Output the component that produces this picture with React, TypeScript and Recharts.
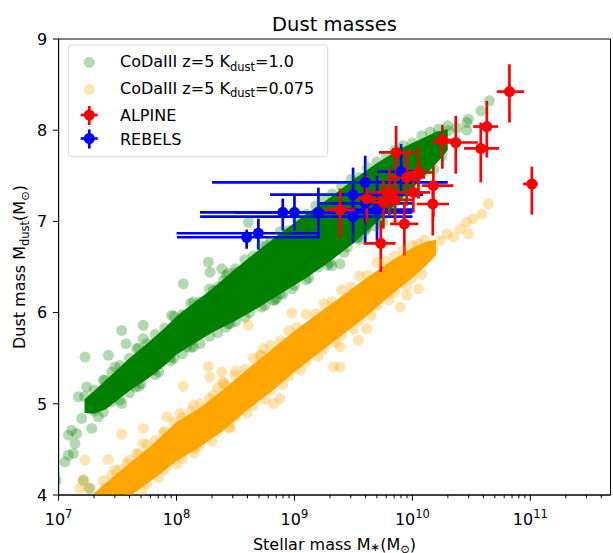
import React from 'react';
import { ComposedChart, XAxis, YAxis, Scatter, Area, ErrorBar, ReferenceArea } from 'recharts';

const FONT = '"DejaVu Sans", Verdana, sans-serif';
const LOG_X_MIN = 7;
const LOG_X_MAX = 11.68;
const Y_MIN = 4;
const Y_MAX = 9;
const X_MAJOR_EXP = [7, 8, 9, 10, 11];
const Y_TICKS = [4, 5, 6, 7, 8, 9];

const TITLE = 'Dust masses';
const SERIES_NAMES = ['CoDaIII z=5 K', 'CoDaIII z=5 K', 'ALPINE', 'REBELS'];
const SERIES_SUFFIX = ['=1.0', '=0.075', '', ''];

// dense core of the simulated clouds: [log M*, log Mdust low, log Mdust high]
const greenBand: [number, number, number][] = [
  [7.22, 4.9, 5.05], [7.3, 4.89, 5.14], [7.4, 4.94, 5.26], [7.5, 5.04, 5.38], [7.6, 5.14, 5.5],
  [7.75, 5.27, 5.66], [7.9, 5.42, 5.83], [8.0, 5.54, 5.96], [8.15, 5.66, 6.11], [8.3, 5.78, 6.26],
  [8.5, 5.91, 6.48], [8.7, 6.06, 6.69], [8.9, 6.22, 6.89], [9.1, 6.38, 7.08], [9.3, 6.56, 7.26],
  [9.5, 6.76, 7.46], [9.7, 6.99, 7.64], [9.9, 7.24, 7.8], [10.05, 7.43, 7.89], [10.2, 7.63, 7.98],
  [10.3, 7.78, 8.01],
];
const orangeBand: [number, number, number][] = [
  [7.3, 3.8, 4.02], [7.4, 3.85, 4.13], [7.5, 3.9, 4.24], [7.65, 4.03, 4.4], [7.8, 4.17, 4.56],
  [8.0, 4.37, 4.8], [8.2, 4.53, 4.96], [8.4, 4.71, 5.16], [8.6, 4.93, 5.38], [8.8, 5.13, 5.59],
  [9.0, 5.35, 5.8], [9.2, 5.55, 5.99], [9.4, 5.75, 6.18], [9.6, 5.95, 6.37], [9.8, 6.17, 6.55],
  [10.0, 6.38, 6.71], [10.12, 6.52, 6.78], [10.2, 6.63, 6.8],
];

// individual (scattered) simulated galaxies: [log M*, log Mdust]
const greenPoints: [number, number][] = [
  [8.058, 6.317], [8.143, 6.115], [7.959, 5.969], [7.718, 5.86], [7.535, 5.805], [7.718, 5.714],
  [7.572, 5.659], [7.662, 5.605], [7.224, 5.513], [7.422, 5.532], [7.478, 5.404], [7.394, 5.258],
  [7.238, 5.185], [7.167, 5.076], [7.351, 5.058], [7.337, 4.857], [7.281, 4.73], [7.196, 4.839],
  [7.111, 4.711], [7.082, 4.656], [7.153, 4.675], [7.139, 4.566], [7.125, 4.456], [7.082, 4.438],
  [7.054, 4.364], [6.98, 4.16], [7.21, 4.16], [7.266, 4.073], [8.454, 5.878], [8.595, 6.06],
  [8.85, 6.28], [8.878, 6.207], [8.821, 6.134], [8.143, 5.623], [8.129, 5.696], [7.945, 5.513],
  [7.803, 5.368], [7.648, 5.185], [7.535, 5.003], [7.3, 4.92],
  [8.27, 6.553], [8.284, 6.443], [8.383, 6.48], [8.439, 6.432], [8.51, 6.443], [8.539, 6.388],
  [8.397, 6.352], [8.312, 6.243], [8.072, 5.969], [8.609, 6.99], [8.765, 6.735], [8.835, 6.141],
  [8.736, 6.207], [8.439, 5.878], [8.086, 5.623],
  [9.245, 6.571], [9.316, 6.516], [9.387, 6.535], [9.387, 6.754], [9.542, 6.826], [9.599, 6.918],
  [10.653, 8.322], [10.58, 8.212], [10.475, 8.121], [10.461, 8.084], [10.461, 8.001], [10.377, 8.023],
  [10.305, 7.993], [10.212, 7.939], [10.193, 7.829], [10.093, 7.775], [10.037, 7.738], [10.178, 7.701],
  [10.136, 7.665], [9.613, 6.935], [9.528, 6.826], [9.698, 7.045],
  [7.45, 5.02], [7.6, 5.12], [7.7, 5.22], [7.85, 5.35], [7.95, 5.47], [8.05, 5.55], [8.2, 5.66],
  [8.35, 5.78], [8.5, 5.9], [8.62, 6.0], [8.75, 6.08], [8.9, 6.2], [9.0, 6.3], [9.1, 6.36],
  [9.2, 6.5], [9.3, 6.55], [9.45, 6.72], [9.6, 6.9], [9.75, 7.0], [9.85, 7.2], [9.95, 7.35],
  [10.1, 7.55], [10.25, 7.72],
  [7.3, 5.15], [7.45, 5.35], [7.6, 5.5], [7.75, 5.66], [7.9, 5.83], [8.05, 5.98], [8.2, 6.12],
  [8.35, 6.28], [8.5, 6.48], [8.65, 6.62], [8.8, 6.78], [8.95, 6.9], [9.1, 7.08], [9.25, 7.25],
  [9.4, 7.38], [9.55, 7.48], [9.7, 7.65], [9.85, 7.78], [10.0, 7.86], [10.15, 7.98], [10.3, 8.05],
  [7.38, 4.91], [7.52, 5.04], [7.68, 5.19], [7.82, 5.32], [7.98, 5.5], [8.12, 5.62], [8.28, 5.74],
  [8.42, 5.84], [8.58, 5.95], [8.72, 6.06], [8.85, 6.16], [8.98, 6.26], [9.12, 6.38], [9.28, 6.52],
  [9.42, 6.66], [9.55, 6.8], [9.68, 6.95], [9.82, 7.12], [9.92, 7.24], [10.03, 7.37], [10.18, 7.57],
  [7.22, 5.08], [7.38, 5.26], [7.52, 5.42], [7.68, 5.61], [7.82, 5.76], [7.98, 5.96], [8.12, 6.1],
  [8.28, 6.26], [8.42, 6.41], [8.58, 6.58], [8.72, 6.73], [8.88, 6.89], [9.02, 7.02], [9.18, 7.17],
  [9.32, 7.3], [9.48, 7.46], [9.62, 7.59], [9.78, 7.72], [9.92, 7.83], [10.08, 7.94], [10.22, 8.01],
];
const orangePoints: [number, number][] = [
  [8.977, 5.995], [8.609, 5.86], [8.27, 5.411], [8.284, 5.294], [8.383, 5.349], [8.397, 5.222],
  [8.496, 5.313], [8.736, 5.605], [8.708, 5.532], [8.666, 5.368], [8.878, 5.058], [8.821, 5.003],
  [8.058, 5.193], [8.143, 4.985], [8.03, 4.894], [7.917, 4.857], [7.888, 4.675], [7.718, 4.73],
  [7.535, 4.667], [7.718, 4.566], [7.662, 4.456], [7.578, 4.347], [7.422, 4.39], [7.224, 4.383],
  [7.478, 4.274], [7.21, 4.166], [7.181, 4.073], [7.252, 4.073], [7.394, 4.073], [8.143, 4.529],
  [10.645, 7.191], [10.589, 7.082], [10.461, 6.99], [10.475, 6.863], [10.292, 6.863], [10.235, 6.79],
  [10.051, 6.261], [9.952, 6.188], [9.896, 6.06], [9.542, 5.696], [9.613, 5.824], [9.387, 5.623],
  [9.33, 5.404], [9.387, 5.404], [8.397, 5.24], [8.312, 5.094], [8.426, 4.911], [8.157, 4.511],
  [8.454, 4.747], [10.178, 6.68], [10.065, 6.57], [10.405, 6.918], [10.35, 6.83], [10.515, 7.03],
  [7.6, 4.0], [7.75, 4.12], [7.9, 4.28], [8.05, 4.4], [8.2, 4.55], [8.35, 4.7], [8.5, 4.86],
  [8.65, 4.98], [8.8, 5.15], [8.95, 5.3], [9.1, 5.46], [9.25, 5.6], [9.4, 5.75], [9.55, 5.92],
  [9.7, 6.08], [9.85, 6.22], [10.0, 6.38],
  [7.45, 4.22], [7.6, 4.38], [7.75, 4.55], [7.9, 4.7], [8.05, 4.85], [8.2, 5.0], [8.35, 5.18],
  [8.5, 5.36], [8.65, 5.5], [8.8, 5.64], [8.95, 5.8], [9.1, 5.98], [9.25, 6.1], [9.4, 6.25],
  [9.55, 6.4], [9.7, 6.55], [9.85, 6.62], [10.0, 6.74], [10.1, 6.8],
  [7.55, 3.91], [7.7, 4.05], [7.85, 4.19], [8.0, 4.34], [8.15, 4.46], [8.3, 4.59], [8.45, 4.73],
  [8.6, 4.9], [8.75, 5.05], [8.9, 5.21], [9.05, 5.37], [9.2, 5.52], [9.35, 5.67], [9.5, 5.82],
  [9.65, 5.97], [9.8, 6.14], [9.95, 6.29], [10.08, 6.42],
  [7.38, 4.16], [7.52, 4.28], [7.68, 4.45], [7.82, 4.6], [7.98, 4.8], [8.12, 4.92], [8.28, 5.06],
  [8.42, 5.2], [8.58, 5.38], [8.72, 5.53], [8.88, 5.69], [9.02, 5.84], [9.18, 5.99], [9.32, 6.12],
  [9.48, 6.28], [9.62, 6.41], [9.78, 6.56], [9.92, 6.68], [10.05, 6.75],
];

// observations: [log M*, log M* low, log M* high, log Mdust, low, high]
const alpine: number[][] = [
  [9.387, 9.259, 9.513, 7.126, 6.826, 7.359],
  [9.862, 9.717, 10.048, 7.756, 7.49, 8.048],
  [10.051, 9.938, 10.167, 7.537, 7.25, 7.82],
  [9.952, 9.81, 10.108, 7.482, 7.173, 7.775],
  [9.805, 9.64, 9.98, 7.318, 7.063, 7.578],
  [9.853, 9.725, 9.997, 7.235, 6.987, 7.468],
  [9.754, 9.601, 9.895, 7.209, 6.921, 7.446],
  [9.613, 9.477, 9.774, 7.249, 6.987, 7.501],
  [9.932, 9.81, 10.051, 6.973, 6.626, 7.209],
  [9.732, 9.586, 9.857, 6.76, 6.443, 7.009],
  [10.178, 10.08, 10.348, 7.392, 7.045, 7.611],
  [10.173, 10.037, 10.311, 7.191, 6.845, 7.428],
  [10.008, 9.895, 10.15, 7.318, 7.096, 7.556],
  [10.254, 10.175, 10.337, 7.892, 7.578, 8.059],
  [10.368, 10.164, 10.555, 7.865, 7.523, 8.158],
  [10.58, 10.438, 10.735, 7.8, 7.428, 8.084],
  [10.631, 10.515, 10.727, 8.04, 7.701, 8.322],
  [10.823, 10.716, 10.948, 8.423, 8.084, 8.723],
  [11.013, 10.939, 11.064, 7.41, 7.074, 7.6],
];
const rebels: number[][] = [
  [8.595, 8.004, 9.192, 6.826, 6.7, 6.91],
  [8.694, 8.0, 9.19, 6.87, 6.69, 7.03],
  [8.901, 8.199, 9.997, 7.1, 6.9, 7.25],
  [9.0, 8.496, 10.0, 7.1, 6.9, 7.29],
  [9.203, 8.666, 9.81, 7.1, 6.81, 7.37],
  [9.497, 8.793, 10.09, 7.293, 7.0, 7.59],
  [9.6, 8.301, 10.3, 7.428, 7.12, 7.72],
  [9.6, 9.2, 10.0, 7.198, 6.76, 7.45],
  [9.497, 8.2, 10.0, 7.053, 6.76, 7.34],
  [9.7, 9.345, 10.0, 7.13, 6.79, 7.5],
  [9.904, 9.7, 10.09, 7.545, 7.3, 7.85],
];

const toPts = (arr: [number, number][]) => arr.map(([l, v]) => ({ x: 10 ** l, y: v }));
const toBand = (arr: [number, number, number][]) => arr.map(([l, lo, hi]) => ({ x: 10 ** l, band: [lo, hi] }));
const toErr = (arr: number[][]) =>
  arr.map(([l, llo, lhi, v, vlo, vhi]) => ({
    x: 10 ** l,
    y: v,
    ex: [10 ** l - 10 ** llo, 10 ** lhi - 10 ** l],
    ey: [v - vlo, vhi - v],
  }));

const X_MAX = 10 ** LOG_X_MAX;
const X_MIN = 10 ** LOG_X_MIN;
const xTicks: number[] = [];
X_MAJOR_EXP.forEach((e) => {
  for (let k = 1; k <= 9; k++) {
    const v = k * 10 ** e;
    if (v <= X_MAX) xTicks.push(v);
  }
});

const XTick = (props: any) => {
  const { x, y, payload } = props;
  const v = payload.value;
  const lg = Math.log10(v);
  const exp = Math.round(lg);
  const major = Math.abs(lg - exp) < 1e-6;
  return (
    <g>
      <line x1={x} x2={x} y1={y} y2={y + (major ? 5.7 : 3.3)} stroke="#000" strokeWidth={1} />
      {major && (
        <text x={x} y={y + 30} textAnchor="middle" fontSize={16} fontFamily={FONT} fill="#000">
          10<tspan fontSize={11.5} dy={-6.6}>{exp}</tspan>
        </text>
      )}
    </g>
  );
};

const YTick = (props: any) => {
  const { x, y, payload } = props;
  return (
    <g>
      <line x1={x} x2={x - 5.7} y1={y} y2={y} stroke="#000" strokeWidth={1} />
      <text x={x - 11.4} y={y + 5.8} textAnchor="end" fontSize={16} fontFamily={FONT} fill="#000">
        {payload.value}
      </text>
    </g>
  );
};

const dot = (color: string, r: number, op: number) => (p: any) => (
  <circle cx={p.cx} cy={p.cy} r={r} fill={color} fillOpacity={op} stroke="none" />
);

const Overlay = () => (
  <svg width={613} height={553} style={{ position: 'absolute', left: 0, top: 0, pointerEvents: 'none' }}>
    <text x={334.5} y={31} textAnchor="middle" fontSize={19.5} fontFamily={FONT} fill="#000">{TITLE}</text>
    <text x={334.5} y={550} textAnchor="middle" fontSize={16} fontFamily={FONT} fill="#000">
      Stellar mass M<tspan fontSize={11.5} dy={1}>∗</tspan><tspan dy={-1}>(M</tspan>
      <tspan fontSize={11.5} dy={3}>⊙</tspan><tspan dy={-3}>)</tspan>
    </text>
    <text x={25} y={267} transform="rotate(-90 25 267)" textAnchor="middle" fontSize={16} fontFamily={FONT} fill="#000">
      Dust mass M<tspan fontSize={11.5} dy={3.5}>dust</tspan><tspan dy={-3.5}>(M</tspan>
      <tspan fontSize={11.5} dy={3.5}>⊙</tspan><tspan dy={-3.5}>)</tspan>
    </text>
    <rect x={68.3} y={45} width={259.4} height={111.7} rx={3.5} fill="#fff" fillOpacity={0.8} stroke="#d6d6d6" strokeWidth={1} />
    <circle cx={89.3} cy={62.3} r={5.5} fill="#008000" fillOpacity={0.3} />
    <circle cx={89.3} cy={89.5} r={5.5} fill="#FFA500" fillOpacity={0.3} />
    <line x1={80.7} x2={97.7} y1={115} y2={115} stroke="#ff0000" strokeWidth={2.7} />
    <line x1={89.3} x2={89.3} y1={106} y2={125} stroke="#ff0000" strokeWidth={2.7} />
    <circle cx={89.3} cy={115} r={5.5} fill="#ff0000" />
    <line x1={80.7} x2={97.7} y1={138.5} y2={138.5} stroke="#0000ff" strokeWidth={2.7} />
    <line x1={89.3} x2={89.3} y1={129.5} y2={148.5} stroke="#0000ff" strokeWidth={2.7} />
    <circle cx={89.3} cy={138.5} r={5.5} fill="#0000ff" />
    {[67, 93.5].map((yy, i) => (
      <text key={i} x={120} y={yy} fontSize={16} fontFamily={FONT} fill="#000">
        {SERIES_NAMES[i]}<tspan fontSize={11.5} dy={3.5}>dust</tspan><tspan dy={-3.5}>{SERIES_SUFFIX[i]}</tspan>
      </text>
    ))}
    <text x={120} y={120.5} fontSize={16} fontFamily={FONT} fill="#000">{SERIES_NAMES[2]}</text>
    <text x={120} y={144.5} fontSize={16} fontFamily={FONT} fill="#000">{SERIES_NAMES[3]}</text>
  </svg>
);

export default function App() {
  return (
    <div style={{ position: 'absolute', left: 0, top: 0, width: 613, height: 553, background: '#fff' }}>
      <ComposedChart width={613} height={553} margin={{ top: 39, right: 2.5, bottom: 0, left: 0 }}>
        <XAxis
          dataKey="x"
          type="number"
          scale="log"
          domain={[X_MIN, X_MAX]}
          allowDataOverflow
          ticks={xTicks}
          interval={0}
          tickSize={0}
          tickMargin={0}
          tickLine={false}
          tick={(p: any) => <XTick {...p} />}
          height={58}
          axisLine={{ stroke: '#000', strokeWidth: 1 }}
        />
        <YAxis
          dataKey="y"
          type="number"
          domain={[Y_MIN, Y_MAX]}
          allowDataOverflow
          ticks={Y_TICKS}
          interval={0}
          tickSize={0}
          tickMargin={0}
          tickLine={false}
          tick={(p: any) => <YTick {...p} />}
          width={58.6}
          axisLine={{ stroke: '#000', strokeWidth: 1 }}
        />
        <ReferenceArea x1={X_MIN} x2={X_MAX} y1={Y_MIN} y2={Y_MAX} fill="none" stroke="#000" strokeWidth={1} strokeOpacity={1} fillOpacity={0} />
        <Area data={toBand(greenBand)} dataKey="band" type="linear" stroke="none" fill="#008000" fillOpacity={1} isAnimationActive={false} />
        <Area data={toBand(orangeBand)} dataKey="band" type="linear" stroke="none" fill="#FFA500" fillOpacity={1} isAnimationActive={false} />
        <Scatter data={toPts(greenPoints)} shape={dot('#008000', 5.5, 0.3)} isAnimationActive={false} />
        <Scatter data={toPts(orangePoints)} shape={dot('#FFA500', 5.5, 0.3)} isAnimationActive={false} />
        <Scatter data={toErr(rebels)} shape={dot('#0000ff', 5.5, 1)} isAnimationActive={false}>
          <ErrorBar dataKey="ex" direction="x" width={0} stroke="#0000ff" strokeWidth={2.7} isAnimationActive={false} />
          <ErrorBar dataKey="ey" direction="y" width={0} stroke="#0000ff" strokeWidth={2.7} isAnimationActive={false} />
        </Scatter>
        <Scatter data={toErr(alpine)} shape={dot('#ff0000', 5.5, 1)} isAnimationActive={false}>
          <ErrorBar dataKey="ex" direction="x" width={0} stroke="#ff0000" strokeWidth={2.7} isAnimationActive={false} />
          <ErrorBar dataKey="ey" direction="y" width={0} stroke="#ff0000" strokeWidth={2.7} isAnimationActive={false} />
        </Scatter>
      </ComposedChart>
      <Overlay />
    </div>
  );
}
